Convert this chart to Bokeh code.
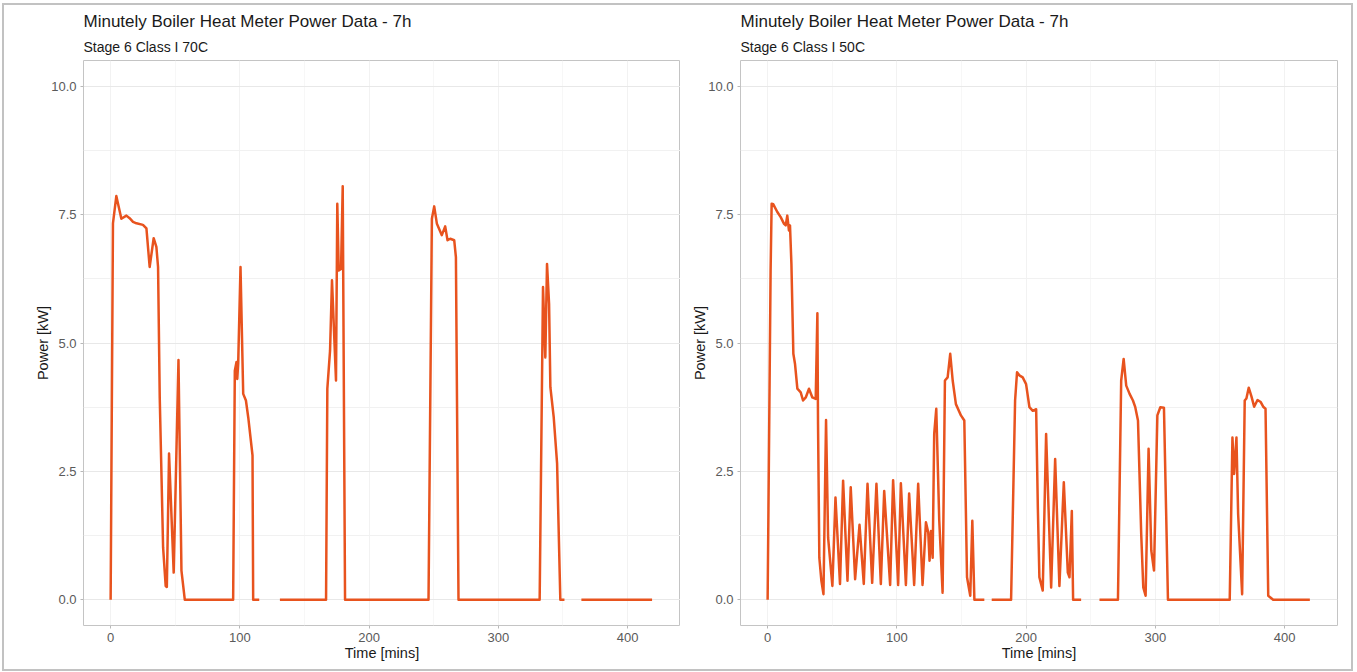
import numpy as np
from bokeh.plotting import figure
from bokeh.layouts import row
from bokeh.models import Title, Range1d, FixedTicker, ColumnDataSource
from bokeh.embed import file_html
from bokeh.resources import INLINE

nan = float("nan")

# ---- data (minutes, kW); NaN marks gaps in the record ----
time_70c = [0, 1.8, 4.4, 8.3, 12.2, 14.7, 17.3, 20, 25, 27.7, 30.2, 33.3, 35.4, 36.7, 38, 40.6, 42.6, 43.5, 45.2, 48.8, 52.5, 54.8, 57.4, 94.8,
            96.1, 97.4, 98, 98.7, 100.5, 102.6, 104.7, 106.5, 109.8, 110.3, 115, nan,
            131, 166.7, 167.7, 169.8, 171.3, 174.4, 175.4, 176.5, 178.3, 179.6, 181.4, 246,
            248.6, 250.4, 252.5, 256.3, 258.9, 260.7, 262.8, 265.9, 267.2, 269.2, 332,
            334.6, 336.4, 337.7, 339.3, 340.3, 342.9, 345.5, 348, 351.2, nan, 364.3, 419]
power_70c = [0, 7.33, 7.86, 7.42, 7.48, 7.43, 7.36, 7.33, 7.3, 7.23, 6.48, 7.04, 6.87, 6.48, 3.94, 1.02, 0.27, 0.25, 2.85, 0.53, 4.67, 0.57, 0, 0,
             4.46, 4.63, 4.3, 4.6, 6.48, 4.01, 3.88, 3.55, 2.81, 0, 0, nan,
             0, 0, 4.11, 4.85, 6.22, 4.27, 7.71, 6.41, 6.44, 8.05, 0, 0,
             7.42, 7.66, 7.32, 7.1, 7.27, 7.0, 7.03, 7.0, 6.67, 0, 0,
             6.09, 4.72, 6.54, 5.76, 4.14, 3.55, 2.65, 0, 0, nan, 0, 0]

time_50c = [0, 2.3, 3.1, 4.4, 7.5, 10.1, 12.7, 14, 15.2, 16.5, 17.3, 18.4, 19.9, 21.2, 23, 25.6, 27.4, 29.5, 32, 34.6, 37.2,
            38.5, 39, 40, 41.6, 43.2, 45.2, 46.8, 50.1, 52.5, 56, 58.4, 61.8, 64.3, 67.7, 71.1, 74.4, 77.3, 80.9, 84.2, 87.6,
            90.2, 94.8, 97.1, 101, 103.1, 107, 109.5, 113.4, 116.5, 119.9,
            122.5, 124.3, 125.3, 126.4, 127.7, 128.9, 130.5, 132.8, 135.4, 137.2, 139.3, 141.3, 143.2, 145.7, 149.6, 152.2, 154.3, 156.8, 158.4, 160, 167.7, nan,
            173.4, 188.4, 191.5, 193, 194.8, 197.4, 200, 202.6, 205.2, 207.8, 209.1, 210.3, 212.9, 215.5, 219.4, 222.5, 225.8, 229.2, 232.3, 233.6, 235.4, 236.4, 242.6, nan,
            256.8, 271.1, 273.6, 275.5, 277.5, 280.1, 282.7, 284.5, 286.6, 289.1, 290.7, 292.5, 294.8, 296.9, 299, 301.6, 303.9, 306.7, 309.8, 357.6,
            359.7, 361, 362.8, 364.1, 367.2, 369.2, 370.5, 372.3, 374.4, 376.5, 379.1, 381.6, 383.5, 385.3, 387.4, 391.2, 419.6]
power_50c = [0, 6.41, 7.71, 7.7, 7.55, 7.45, 7.32, 7.29, 7.48, 7.19, 7.29, 6.54, 4.79, 4.59, 4.11, 4.04, 3.88, 3.94, 4.11, 3.94, 3.91,
             5.58, 3.42, 0.82, 0.37, 0.11, 3.5, 1.21, 0.27, 1.99, 0.31, 2.32, 0.37, 2.19, 0.4, 1.46, 0.31, 2.26, 0.33, 2.26, 0.31,
             2.12, 0.29, 2.33, 0.29, 2.27, 0.29, 2.07, 0.29, 2.26, 0.29,
             1.51, 1.31, 0.76, 1.34, 0.82, 3.23, 3.72, 1.55, 0.14, 4.27, 4.33, 4.79, 4.27, 3.81, 3.59, 3.49, 0.44, 0.08, 1.54, 0, 0, nan,
             0, 0, 3.88, 4.43, 4.37, 4.33, 4.2, 3.75, 3.68, 3.71, 1.8, 0.44, 0.18, 3.23, 0.24, 2.74, 0.27, 2.29, 0.53, 0.44, 1.73, 0, 0, nan,
             0, 0, 4.27, 4.69, 4.17, 4.01, 3.88, 3.75, 3.49, 1.28, 0.24, 0.08, 2.94, 0.96, 0.57, 3.59, 3.75, 3.74, 0, 0,
             3.16, 2.45, 3.16, 1.67, 0.11, 3.88, 3.92, 4.13, 3.96, 3.76, 3.89, 3.85, 3.76, 3.72, 0.08, 0, 0]

assert len(time_70c) == len(power_70c)
assert len(time_50c) == len(power_50c)

main_title = "Minutely Boiler Heat Meter Power Data - 7h"
subtitles = ["Stage 6 Class I 70C", "Stage 6 Class I 50C"]
x_label = "Time [mins]"
y_label = "Power [kW]"
x_ticks = [0, 100, 200, 300, 400]
x_minor = [-50, 50, 150, 250, 350, 450]
y_ticks = [0, 2.5, 5, 7.5, 10]
y_minor = [1.25, 3.75, 6.25, 8.75]
y_tick_labels = ["0.0", "2.5", "5.0", "7.5", "10.0"]

FONT = "Liberation Sans"
LINE = "#E8531E"


def panel(times, powers, subtitle, width, bl, br):
    p = figure(width=width, height=664, title=None,
               x_range=Range1d(-21, 441), y_range=Range1d(-0.5, 10.5),
               output_backend="svg", toolbar_location=None,
               min_border_left=bl, min_border_right=br,
               min_border_top=55, min_border_bottom=44)
    p.background_fill_color = "white"
    p.border_fill_color = "white"
    p.outline_line_color = "#c4c4c4"
    p.outline_line_width = 1

    p.add_layout(Title(text=subtitle, text_font=FONT, text_font_size="14px",
                       text_font_style="normal", text_color="#1a1a1a",
                       align="left", standoff=12), "above")
    p.add_layout(Title(text=main_title, text_font=FONT, text_font_size="17px",
                       text_font_style="normal", text_color="#1a1a1a",
                       align="left", standoff=0), "above")

    p.xaxis.ticker = FixedTicker(ticks=x_ticks, minor_ticks=x_minor)
    p.yaxis.ticker = FixedTicker(ticks=y_ticks, minor_ticks=y_minor)
    p.yaxis.major_label_overrides = {t: l for t, l in zip(y_ticks, y_tick_labels)}

    for ax in (p.xaxis[0], p.yaxis[0]):
        ax.axis_line_color = None
        ax.major_tick_line_color = "#b8b8b8"
        ax.major_tick_out = 3
        ax.major_tick_in = 0
        ax.minor_tick_line_color = None
        ax.major_label_text_font = FONT
        ax.major_label_text_font_size = "13px"
        ax.major_label_text_color = "#5a5a5a"
        ax.major_label_standoff = 3
        ax.axis_label_text_font = FONT
        ax.axis_label_text_font_size = "14.5px"
        ax.axis_label_text_font_style = "normal"
        ax.axis_label_text_color = "#1a1a1a"
    p.xaxis.axis_label = x_label
    p.yaxis.axis_label = y_label
    p.xaxis.axis_label_standoff = 0
    p.yaxis.axis_label_standoff = -3

    p.xgrid.grid_line_color = "#f2f2f2"
    p.xgrid.minor_grid_line_color = "#f7f7f7"
    p.ygrid.grid_line_color = "#e8e8e8"
    p.ygrid.minor_grid_line_color = "#f1f1f1"

    src = ColumnDataSource(dict(t=np.array(times, dtype=float), kw=np.array(powers, dtype=float)))
    p.line("t", "kw", source=src, line_color=LINE, line_width=2.5, line_join="round")
    return p


p1 = panel(time_70c, power_70c, subtitles[0], 676, 79, 0)
p2 = panel(time_50c, power_50c, subtitles[1], 671, 60, 14)

layout = row(p1, p2)
layout.styles = {"border": "2px solid #c2c2c2", "margin": "3px 0 0 2px"}

open("out.html", "w").write(file_html(layout, INLINE))
